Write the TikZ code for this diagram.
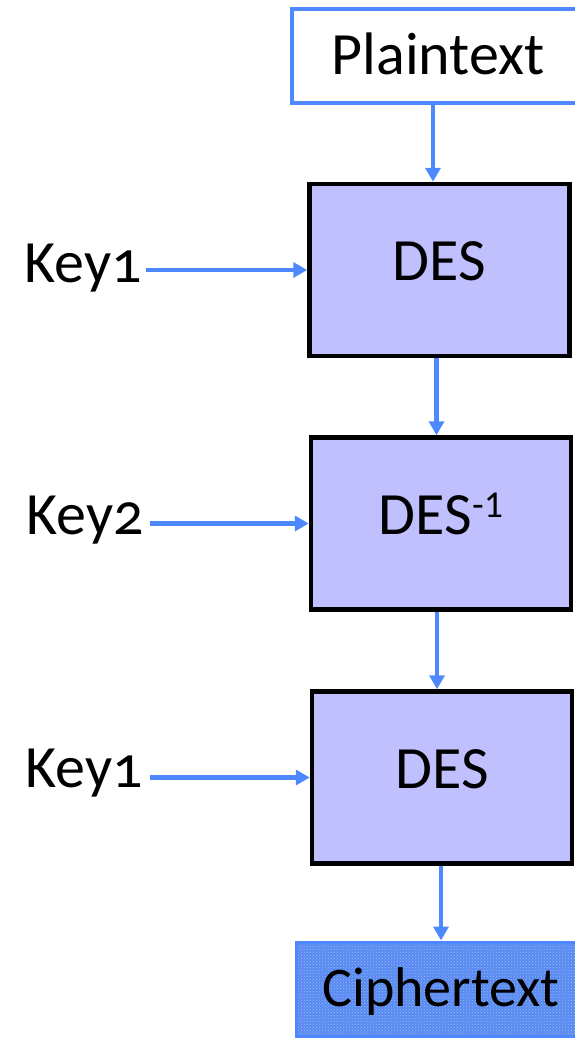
\documentclass[tikz,border=0pt]{standalone}
\usepackage{fontspec}
\setmainfont{Carlito}[Numbers=OldStyle]
\usetikzlibrary{arrows.meta,patterns}
\definecolor{arrblue}{RGB}{77,136,255}
\definecolor{lav}{RGB}{192,192,255}
\definecolor{cfill}{RGB}{88,138,240}
\definecolor{cdots}{RGB}{150,182,255}
\tikzset{
  txt/.style={font=\fontsize{60}{60}\selectfont, inner sep=0pt},
  desbox/.style={draw=black, line width=4.5pt, fill=lav, minimum width=260pt, minimum height=172pt,
     font=\fontsize{60}{60}\selectfont, text height=39pt, text depth=18pt, inner sep=0pt},
  arr/.style={draw=arrblue, line width=4.5pt, -{Triangle[length=14pt,width=15pt]}},
}
\begin{document}
\begin{tikzpicture}[x=1pt,y=-1pt]
\useasboundingbox (0,0) rectangle (575,1038);
\clip (0,0) rectangle (575,1038);
% Plaintext box
\node[draw=arrblue, line width=3.5pt, fill=white, minimum width=292pt, minimum height=94pt,
      font=\fontsize{60}{60}\selectfont, text height=39pt, text depth=2pt, inner sep=0pt]
      (plain) at (438,56) {Plaintext};
% DES boxes
\node[desbox] (d1) at (439.5,270) {DES};
\node[desbox] (d2) at (441,523.5) {DES\raisebox{17pt}{\fontsize{38}{38}\selectfont\addfontfeature{Numbers=Lining}-1}};
\node[desbox] (d3) at (442,777.5) {DES};
% Ciphertext box
\node[draw=arrblue, line width=3pt, preaction={fill=cfill}, pattern=crosshatch dots, pattern color=cdots,
      minimum width=290pt, minimum height=94pt,
      font=\fontsize{56}{56}\selectfont, text height=37pt, text depth=3pt, inner sep=0pt]
      (ciph) at (441,989) {Ciphertext};
% Keys
\node[txt, anchor=east] (k1) at (142,268) {Key1};
\node[txt, anchor=east] (k2) at (144,520) {Key2};
\node[txt, anchor=east] (k3) at (143,773) {Key1};
% Arrows
\draw[arr] ([xshift=-5pt]plain.south) -- ([xshift=-5pt]plain.south |- d1.north);
\draw[arr] ([xshift=-3pt]d1.south) -- ([xshift=-3pt]d1.south |- d2.north);
\draw[arr] ([xshift=-4pt]d2.south) -- ([xshift=-4pt]d2.south |- d3.north);
\draw[arr] ([xshift=-1pt]d3.south) -- ([xshift=-1pt]d3.south |- ciph.north);
\draw[arr] ([xshift=4pt]k1.east |- d1.west) -- (d1.west);
\draw[arr] ([xshift=6pt]k2.east |- d2.west) -- (d2.west);
\draw[arr] ([xshift=7pt]k3.east |- d3.west) -- (d3.west);
\end{tikzpicture}
\end{document}
